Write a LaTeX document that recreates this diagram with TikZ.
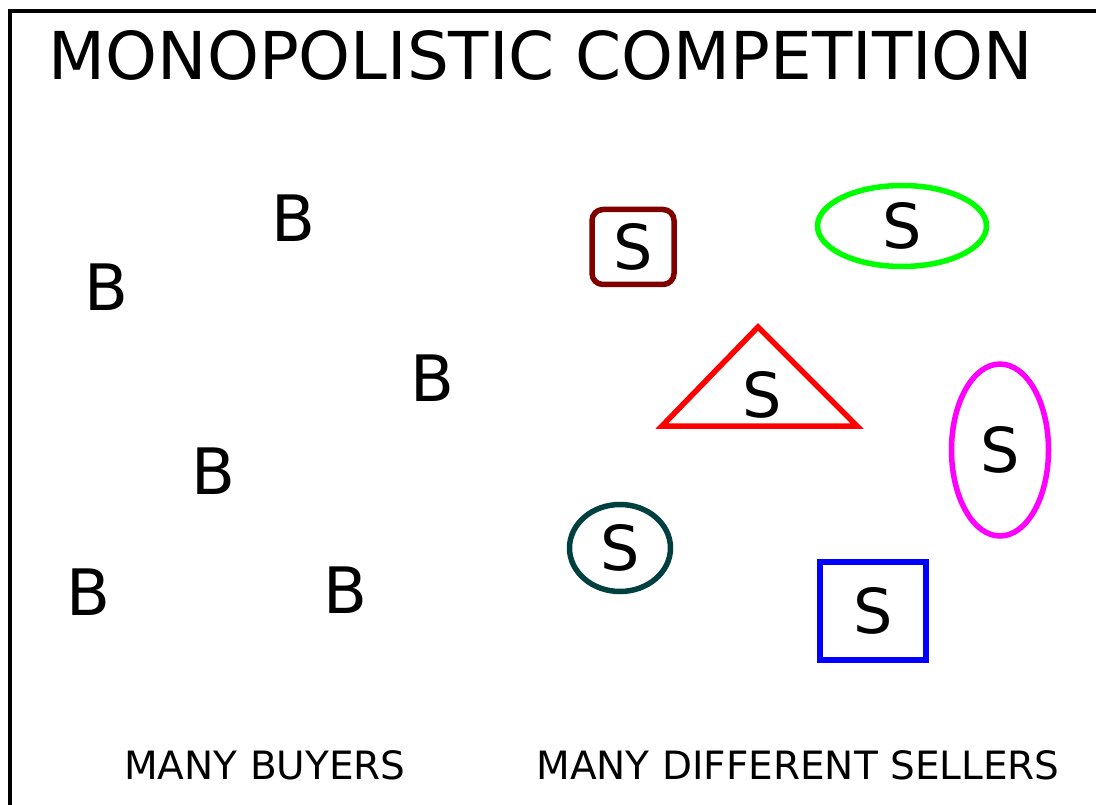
\documentclass[tikz,border=0pt]{standalone}
\usepackage{fontspec}
\setmainfont{DejaVu Sans}
\usepackage{xcolor}
\usepackage{tikz}
\usetikzlibrary{shapes.geometric}
\definecolor{ink}{HTML}{000000}
\definecolor{maroonish}{HTML}{800000}
\definecolor{limeish}{HTML}{00FF00}
\definecolor{redish}{HTML}{FF0000}
\definecolor{magentaish}{HTML}{FF00FF}
\definecolor{tealdark}{HTML}{004040}
\definecolor{blueish}{HTML}{0000FF}
\tikzset{
  every node/.style={text=ink,inner sep=0pt},
  frameline/.style={draw=ink,line width=3.5pt},
  title/.style={font=\fontsize{66}{72}\selectfont},
  caption/.style={font=\fontsize{39}{45}\selectfont},
  buyer/.style={font=\fontsize{64}{70}\selectfont},
  seller/.style={font=\fontsize{62}{68}\selectfont},
  sellerbox/.style={seller,line width=5.5pt},
  roundbox/.style={sellerbox,draw=maroonish,rounded corners=11pt,minimum width=82pt,minimum height=75pt},
  ovalbox/.style={sellerbox,ellipse}
}
\begin{document}
\begin{tikzpicture}[x=1pt,y=-1pt]
  \useasboundingbox (0,0) rectangle (1096,805);
  \draw[frameline] (10,805) -- (10,11) -- (1096,11);

  \node[title,anchor=base] (head) at (541,80) {MONOPOLISTIC COMPETITION};

  % buyers
  \node[buyer] (b1) at (293,218) {B};
  \node[buyer] (b2) at (106,287) {B};
  \node[buyer] (b3) at (432,378) {B};
  \node[buyer] (b4) at (213,471) {B};
  \node[buyer] (b5) at (88,592) {B};
  \node[buyer] (b6) at (345,590) {B};

  % sellers
  \node[roundbox] (s1) at (633,247) {S};
  \node[ovalbox,draw=limeish,minimum width=169pt,minimum height=81pt] (s2) at (902,226) {S};
  \draw[redish,line width=5.5pt] (662,426) -- (758,327) -- (857,426) -- cycle;
  \node[seller] (s3) at (762,395) {S};
  \node[ovalbox,draw=magentaish,minimum width=97pt,minimum height=172pt] (s4) at (1000,450) {S};
  \node[ovalbox,draw=tealdark,minimum width=101pt,minimum height=87pt] (s5) at (620,548) {S};
  \node[sellerbox,draw=blueish,minimum width=106pt,minimum height=98pt] (s6) at (873,611) {S};

  \node[caption,anchor=base] (buyers) at (265,779) {MANY BUYERS};
  \node[caption,anchor=base] (sellers) at (798,779) {MANY DIFFERENT SELLERS};
\end{tikzpicture}
\end{document}
